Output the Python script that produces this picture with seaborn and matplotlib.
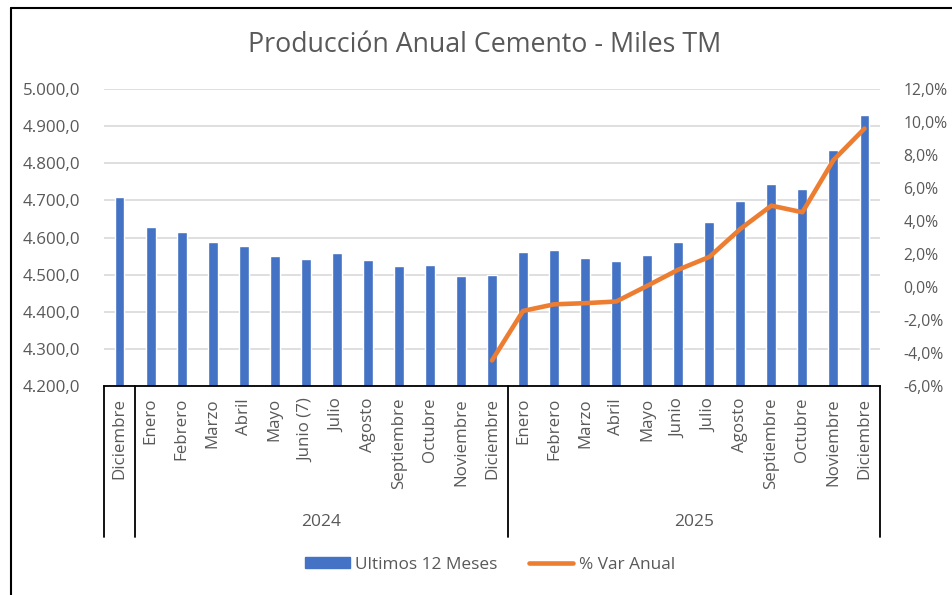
import pandas as pd
import matplotlib.pyplot as plt
import seaborn as sns
from matplotlib.ticker import FuncFormatter, MultipleLocator
from matplotlib.lines import Line2D
from matplotlib.patches import Patch

# ----------------------------
# Data
# ----------------------------
meses = ["Diciembre",
         "Enero", "Febrero", "Marzo", "Abril", "Mayo", "Junio (7)", "Julio",
         "Agosto", "Septiembre", "Octubre", "Noviembre", "Diciembre",
         "Enero", "Febrero", "Marzo", "Abril", "Mayo", "Junio", "Julio",
         "Agosto", "Septiembre", "Octubre", "Noviembre", "Diciembre"]
anios = ["", "2024", "2025"]
ultimos_12 = [4708, 4629, 4615, 4589, 4578, 4551, 4543, 4558, 4540, 4523, 4526, 4495, 4499,
              4561, 4566, 4545, 4537, 4554, 4589, 4643, 4699, 4744, 4731, 4837, 4930]
var_anual = [-4.45, -1.45, -1.05, -0.98, -0.88, 0.07, 1.05, 1.82, 3.52, 4.93, 4.53, 7.69, 9.6]
inicio_var = 12  # the line starts at Diciembre 2024

df = pd.DataFrame({"pos": range(len(meses)), "valor": ultimos_12})
df_var = pd.DataFrame({"pos": range(inicio_var, inicio_var + len(var_anual)), "var": var_anual})

# ----------------------------
# Style
# ----------------------------
sns.set_theme(style="white")
plt.rcParams["font.family"] = ["Open Sans", "DejaVu Sans"]
gris = "#595959"
azul = "#4472C4"
naranja = "#ED7D31"

W, H = 953, 595
fig = plt.figure(figsize=(W / 100, H / 100), dpi=100)
ax = fig.add_axes([104 / W, 1 - 386 / H, (880 - 104) / W, (386 - 89) / H])

# bars
sns.barplot(data=df, x="pos", y="valor", color=azul, saturation=1, width=0.32, ax=ax)
ax.set_ylim(4200, 5000)
ax.set_xlim(-0.5, len(meses) - 0.5)
ax.yaxis.set_major_locator(MultipleLocator(100))
ax.yaxis.set_major_formatter(FuncFormatter(lambda v, p: f"{v:,.1f}".replace(",", "X").replace(".", ",").replace("X", ".")))
ax.grid(axis="y", color="#D9D9D9", linewidth=1.2)
ax.set_axisbelow(True)
ax.set_xlabel("")
ax.set_ylabel("")
ax.set_xticks([])
for s in ["top", "left", "right"]:
    ax.spines[s].set_visible(False)
ax.spines["bottom"].set_color("black")
ax.spines["bottom"].set_linewidth(1.3)
ax.tick_params(axis="y", colors=gris, labelsize=12.2, length=0, pad=17)

# line on secondary axis
ax2 = ax.twinx()
sns.lineplot(data=df_var, x="pos", y="var", color=naranja, linewidth=3.3, ax=ax2)
ax2.set_ylim(-6, 12)
ax2.yaxis.set_major_locator(MultipleLocator(2))
ax2.yaxis.set_major_formatter(FuncFormatter(lambda v, p: f"{v:.1f}%".replace(".", ",")))
ax2.set_xlim(-0.5, len(meses) - 0.5)
ax2.set_ylabel("")
ax2.set_xlabel("")
for s in ["top", "left", "right", "bottom"]:
    ax2.spines[s].set_visible(False)
ax2.tick_params(axis="y", colors=gris, labelsize=11.3, length=0, pad=17)

# multi-level category axis
trans = ax.get_xaxis_transform()
for i, m in enumerate(meses):
    ax.text(i, -0.04, m, transform=trans, rotation=90, ha="center", va="top",
            fontsize=12.2, color=gris)
y_fin = -(537 - 386) / (386 - 89)
for xs in [-0.5, 0.5, 12.5, 24.5]:
    ax.plot([xs, xs], [0, y_fin], transform=trans, color="black", lw=1.3, clip_on=False)
ax.text(6.5, -(522 - 386) / (386 - 89), anios[1], transform=trans, ha="center", va="center",
        fontsize=12.5, color=gris)
ax.text(18.5, -(522 - 386) / (386 - 89), anios[2], transform=trans, ha="center", va="center",
        fontsize=12.5, color=gris)

# title
fig.text(485 / W, 1 - 45 / H, "Producción Anual Cemento - Miles TM", ha="center", va="center",
         fontsize=19.3, color=gris)

# legend
handles = [Patch(color=azul, label="Ultimos 12 Meses"),
           Line2D([0], [0], color=naranja, lw=3.3, label="% Var Anual")]
fig.legend(handles=handles, loc="center", bbox_to_anchor=(490 / W, 1 - 565 / H), ncol=2,
           frameon=False, fontsize=12.4, labelcolor=gris, handlelength=2.6,
           handleheight=0.6, columnspacing=1.8, handletextpad=0.3)

# chart border (frame cut at right and bottom)
fig.add_artist(Line2D([11 / W, 11 / W], [0, 1 - 8 / H], color="black", lw=1.5))
fig.add_artist(Line2D([11 / W, 1], [1 - 8 / H, 1 - 8 / H], color="black", lw=1.5))

plt.savefig("out.png", dpi=100)
